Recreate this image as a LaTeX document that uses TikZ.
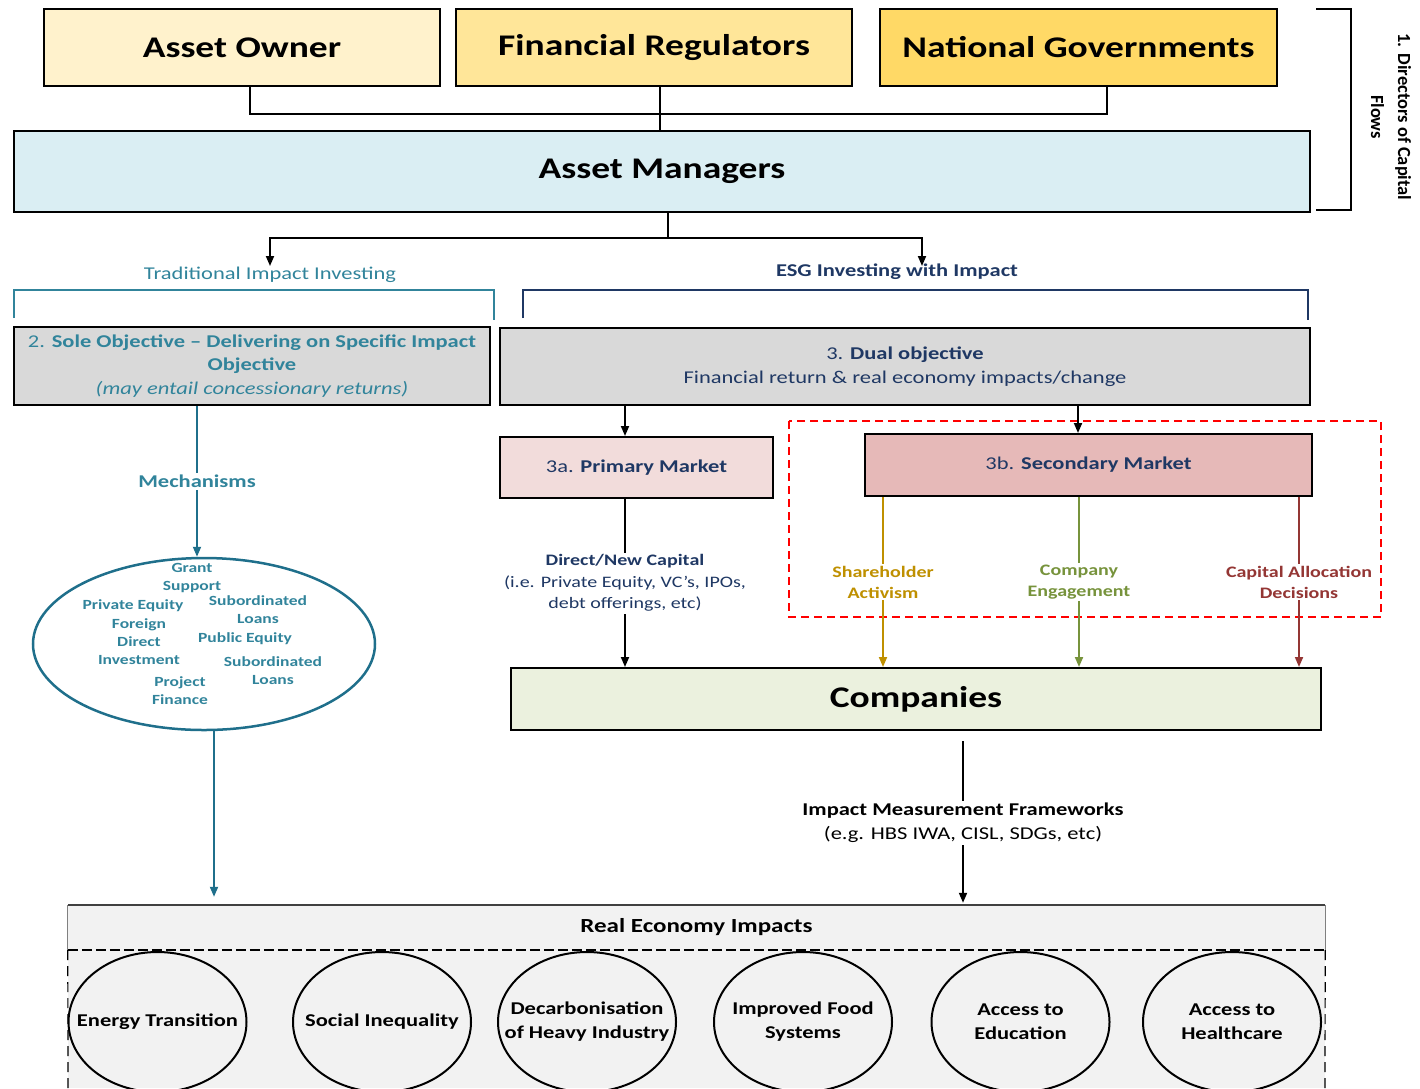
\documentclass[tikz,border=0pt]{standalone}
\usepackage{fontspec}
\setmainfont[FakeStretch=1.25]{Carlito}
\newfontfamily\plainlabel{Carlito}
\usepackage{tikz}
\usepackage{xcolor}
\usetikzlibrary{arrows.meta,shapes.geometric}

\definecolor{owner-fill}{HTML}{FFF2CC}
\definecolor{regulator-fill}{HTML}{FFE699}
\definecolor{government-fill}{HTML}{FFD966}
\definecolor{manager-fill}{HTML}{DAEEF3}
\definecolor{panel-grey}{HTML}{D9D9D9}
\definecolor{primary-fill}{HTML}{F2DCDB}
\definecolor{secondary-fill}{HTML}{E6B9B8}
\definecolor{companies-fill}{HTML}{EBF1DE}
\definecolor{impact-fill}{HTML}{F2F2F2}
\definecolor{teal-text}{HTML}{31849B}
\definecolor{mech-col}{HTML}{1F6F8B}
\definecolor{navy-text}{HTML}{1F3864}
\definecolor{activism-col}{HTML}{BF9000}
\definecolor{engagement-col}{HTML}{77933C}
\definecolor{allocation-col}{HTML}{943634}

\newcommand{\setpx}[2]{\fontsize{#1}{#2}\selectfont}

\tikzset{
    actor-box/.style = {draw=black, line width=2pt, rectangle, minimum height=77pt, inner sep=0pt, align=center, font=\setpx{30}{36}\bfseries},
    objective-box/.style = {draw=black, line width=2pt, fill=panel-grey, rectangle, inner sep=0pt, align=center},
    market-box/.style = {draw=black, line width=2pt, rectangle, inner sep=0pt, align=center, text=navy-text, font=\setpx{18}{22}},
    link/.style = {draw=black, line width=1.8pt},
    flow-arrow/.style = {link, -{Triangle[length=10pt,width=8pt]}},
    side-label/.style = {fill=white, align=center, inner sep=2pt},
    mech-item/.style = {align=center, inner sep=0pt, text=teal-text, font=\setpx{14}{18}\bfseries},
    impact-ellipse/.style = {ellipse, draw=black, line width=2pt, minimum width=178pt, minimum height=140pt, inner sep=0pt},
    impact-text/.style = {align=center, inner sep=0pt, font=\setpx{18}{24}\bfseries},
}

\begin{document}
\begin{tikzpicture}[x=1pt, y=-1pt]
\useasboundingbox (0,0) rectangle (1420,1088);

% directors of capital
\node[actor-box, fill=owner-fill, minimum width=396pt] (owner) at (242,47.5) {Asset Owner};
\node[actor-box, fill=regulator-fill, minimum width=396pt] (regulators) at (654,47.5) {Financial Regulators};
\node[actor-box, fill=government-fill, minimum width=397pt] (governments) at (1078.5,47.5) {National Governments};
\node[actor-box, fill=manager-fill, minimum width=1296pt, minimum height=81pt] (managers) at (662,171.5) {Asset Managers};

\coordinate (top-join) at (660,114);
\draw[link] ([xshift=8pt]owner.south) |- (top-join) -| ([xshift=28.5pt]governments.south);
\draw[link] ([xshift=6pt]regulators.south) -- ([xshift=6pt]regulators.south |- managers.north);

\draw[link] (1316,9) -| (1351,210) -- (1316,210);
\node[rotate=-90, align=center, font=\plainlabel\setpx{18.5}{27}\bfseries] (directors-label) at (1391,117) {1. Directors of Capital\\Flows};

% split into the two routes
\coordinate (split) at (668,238);
\draw[link] (managers.south -| split) -- (split);
\node[inner sep=1pt, text=teal-text, font=\setpx{18}{22}] (traditional-label) at (270,275) {Traditional Impact Investing};
\node[inner sep=1pt, text=navy-text, font=\setpx{18}{22}\bfseries] (esg-label) at (897,272) {ESG Investing with Impact};
\coordinate (esg-in) at (922,266);
\draw[flow-arrow] (split) -| (traditional-label.north);
\draw[flow-arrow] (split) -| (esg-in);

\draw[teal-text, line width=2pt] (14,318) |- (494,290) -- (494,320);
\draw[navy-text, line width=2pt] (523,318) |- (1308,290) -- (1308,320);

\node[objective-box, minimum width=476pt, minimum height=78pt, text=teal-text, font=\setpx{18}{23.5}] (sole) at (252,366)
    {2. \textbf{Sole Objective – Delivering on Specific Impact}\\\textbf{Objective}\\\textit{(may entail concessionary returns)}};
\node[objective-box, minimum width=810pt, minimum height=77pt, text=navy-text, font=\setpx{18}{24}] (dual) at (905,366.5)
    {3. \textbf{Dual objective}\\Financial return \& real economy impacts/change};

% markets
\node[market-box, fill=primary-fill, minimum width=273pt, minimum height=61pt] (primary) at (636.5,467.5) {3a. \textbf{Primary Market}};
\draw[red, line width=1.3pt, dash pattern=on 8pt off 5pt] (789,421) rectangle (1381,617);
\node[market-box, fill=secondary-fill, minimum width=447pt, minimum height=62pt] (secondary) at (1088.5,465) {3b. \textbf{Secondary Market}};

\coordinate (primary-in) at ([xshift=-11.5pt]primary.north);
\coordinate (secondary-in) at ([xshift=-10.5pt]secondary.north);
\draw[flow-arrow] (primary-in |- dual.south) -- (primary-in);
\draw[flow-arrow] (secondary-in |- dual.south) -- (secondary-in);

\node[market-box, fill=companies-fill, minimum width=810pt, minimum height=62pt, text=black, font=\setpx{30}{36}\bfseries] (companies) at (916,699) {Companies};

\coordinate (primary-out) at ([xshift=-11.5pt]primary.south);
\draw[flow-arrow] (primary-out) -- node[side-label, text=navy-text, font=\setpx{16}{21.5}] (direct-capital)
    {\textbf{Direct/New Capital}\\(i.e. Private Equity, VC’s, IPOs,\\debt offerings, etc)} (primary-out |- companies.north);

\coordinate (activism-out) at ([xshift=-205.5pt]secondary.south);
\coordinate (engagement-out) at ([xshift=-9.5pt]secondary.south);
\coordinate (allocation-out) at ([xshift=210.5pt]secondary.south);
\draw[flow-arrow, draw=activism-col] (activism-out) -- node[side-label, text=activism-col, font=\setpx{16}{21}\bfseries] (activism)
    {Shareholder\\Activism} (activism-out |- companies.north);
\draw[flow-arrow, draw=engagement-col] (engagement-out) -- node[side-label, text=engagement-col, font=\setpx{16}{21}\bfseries] (engagement)
    {Company\\Engagement} (engagement-out |- companies.north);
\draw[flow-arrow, draw=allocation-col] (allocation-out) -- node[side-label, text=allocation-col, font=\setpx{16}{21}\bfseries] (allocation)
    {Capital Allocation\\Decisions} (allocation-out |- companies.north);

% mechanisms of traditional impact investing
\node[ellipse, draw=mech-col, line width=2.5pt, minimum width=342pt, minimum height=172pt, inner sep=0pt] (mechanism-pool) at (204,644) {};
\coordinate (mechanism-out) at ([xshift=-55pt]sole.south);
\draw[flow-arrow, draw=mech-col] (mechanism-out) -- node[side-label, text=teal-text, font=\setpx{18}{22}\bfseries] (mechanisms)
    {Mechanisms} (mechanism-out |- mechanism-pool.north);

\node[mech-item] (grant) at (192,578) {Grant\\Support};
\node[mech-item] (private-equity) at (133,606) {Private Equity};
\node[mech-item] (fdi) at (139,642) {Foreign\\Direct\\Investment};
\node[mech-item] (sub-loans-a) at (258,610) {Subordinated\\Loans};
\node[mech-item] (public-equity) at (245,639) {Public Equity};
\node[mech-item] (sub-loans-b) at (273,670.5) {Subordinated\\Loans};
\node[mech-item] (project-finance) at (180,691) {Project\\Finance};

% real economy impacts
\node[fill=impact-fill, minimum width=1257pt, minimum height=45pt, inner sep=0pt, font=\setpx{20}{24}\bfseries] (impacts-head) at (696.5,927.5) {Real Economy Impacts};
\fill[impact-fill] (impacts-head.south west) rectangle (1325,1088);
\draw[gray, line width=0.8pt] (impacts-head.south west) -- (impacts-head.north west);
\draw[gray, line width=0.8pt] (impacts-head.south east) -- (impacts-head.north east);
\draw[darkgray, line width=2pt] (impacts-head.north west) -- (impacts-head.north east);
\draw[line width=1.5pt, dash pattern=on 10pt off 4pt] (impacts-head.south west) -- (impacts-head.south east);
\draw[line width=1.2pt, dash pattern=on 10pt off 6pt] (impacts-head.south west) -- (68,1088);
\draw[line width=1.2pt, dash pattern=on 10pt off 6pt] (impacts-head.south east) -- (1325,1088);

\coordinate (pool-out) at ([xshift=10pt]mechanism-pool.south);
\draw[flow-arrow, draw=mech-col, shorten >=8pt] (pool-out) -- (pool-out |- impacts-head.north);

\coordinate (impact-out) at ([xshift=47pt,yshift=-10pt]companies.south);
\draw[flow-arrow, shorten >=2pt] (impact-out) -- node[side-label, font=\setpx{18}{24}] (frameworks)
    {\textbf{Impact Measurement Frameworks}\\(e.g. HBS IWA, CISL, SDGs, etc)} (impact-out |- impacts-head.north);

\node[impact-ellipse] (energy) at (157.5,1022) {};
\node[impact-ellipse] (inequality) at (382,1022) {};
\node[impact-ellipse] (decarbonisation) at (587,1022) {};
\node[impact-ellipse] (food) at (803,1022) {};
\node[impact-ellipse] (education) at (1020.5,1022) {};
\node[impact-ellipse] (healthcare) at (1232,1022) {};
\node[impact-text] (energy-text) at (energy) {Energy Transition};
\node[impact-text] (inequality-text) at (inequality) {Social Inequality};
\node[impact-text] (decarbonisation-text) at (decarbonisation) {Decarbonisation\\of Heavy Industry};
\node[impact-text] (food-text) at (food) {Improved Food\\Systems};
\node[impact-text] (education-text) at (education) {Access to\\Education};
\node[impact-text] (healthcare-text) at (healthcare) {Access to\\Healthcare};
\end{tikzpicture}
\end{document}
